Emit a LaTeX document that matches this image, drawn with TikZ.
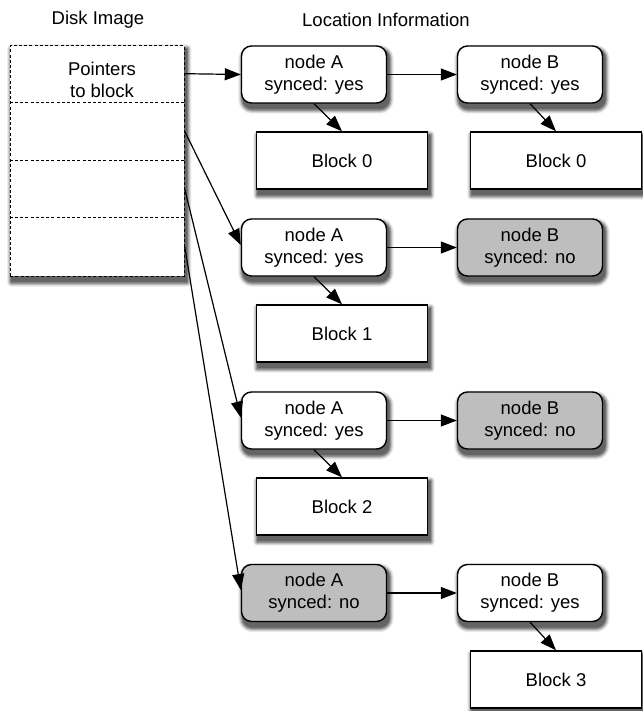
\documentclass[tikz,border=0pt]{standalone}
\usepackage{fontspec}
\setmainfont{Liberation Sans}
\usetikzlibrary{arrows.meta,backgrounds,calc}
\definecolor{boxgray}{RGB}{190,190,190}
\definecolor{shA}{RGB}{235,235,235}
\definecolor{shB}{RGB}{210,210,210}
\definecolor{shC}{RGB}{175,175,175}
\definecolor{shD}{RGB}{135,135,135}
\definecolor{shE}{RGB}{100,100,100}
\newcommand\shadowlayers[6]{% name, r1..r5
  \fill[shA,rounded corners=#2] ($(#1.north west)+(-2.5,-0.5)$) rectangle ($(#1.south east)+(6.5,10)$);
  \fill[shB,rounded corners=#3] ($(#1.north west)+(-1.5,0.5)$) rectangle ($(#1.south east)+(5.5,9)$);
  \fill[shC,rounded corners=#4] ($(#1.north west)+(-0.5,1.5)$) rectangle ($(#1.south east)+(4.5,8)$);
  \fill[shD,rounded corners=#5] ($(#1.north west)+(0.5,2.5)$) rectangle ($(#1.south east)+(3.5,7)$);
  \fill[shE,rounded corners=#6] ($(#1.north west)+(1.5,3.5)$) rectangle ($(#1.south east)+(2.5,5.5)$);
}
\newcommand\roundshadow[1]{\shadowlayers{#1}{14pt}{13pt}{12pt}{11pt}{10pt}}
\newcommand\squareshadow[1]{\shadowlayers{#1}{4pt}{3pt}{2pt}{1pt}{0.1pt}}
\begin{document}
\begin{tikzpicture}[x=1pt,y=-1pt,
  font=\fontsize{18.5}{22}\selectfont,
  infobox/.style={draw,line width=1.4pt,rounded corners=10pt,minimum width=145pt,minimum height=57pt,inner sep=0pt,align=center,fill=white},
  graybox/.style={infobox,fill=boxgray},
  blockbox/.style={draw,line width=1.4pt,minimum width=171pt,minimum height=57pt,inner sep=0pt,fill=white},
  dashline/.style={line width=1.1pt,dash pattern=on 3pt off 2.2pt},
  conn/.style={line width=1.2pt,-{Triangle[length=16pt,width=12pt]}},
  title/.style={inner sep=0pt}
]
\useasboundingbox (0,0) rectangle (642,711);
% disk image
\node[draw,dashline,minimum width=174pt,minimum height=230.5pt,inner sep=0pt,fill=white] (disk) at (97.25,160.8) {};
\coordinate (d1l) at ($(disk.north west)+(0,57.4)$);
\coordinate (d1r) at ($(disk.north east)+(0,57.4)$);
\coordinate (d2l) at ($(disk.north west)+(0,115.2)$);
\coordinate (d2r) at ($(disk.north east)+(0,115.2)$);
\coordinate (d3l) at ($(disk.north west)+(0,172.8)$);
\coordinate (d3r) at ($(disk.north east)+(0,172.8)$);
\draw[dashline] (d1l) -- (d1r);
\draw[dashline] (d2l) -- (d2r);
\draw[dashline] (d3l) -- (d3r);
\coordinate (p0) at ($(disk.north east)+(0,28.7)$);
\coordinate (p1) at ($(disk.north east)+(0,86.5)$);
\coordinate (p2) at ($(disk.north east)+(0,144.3)$);
\coordinate (p3) at ($(disk.north east)+(0,202)$);
\node[align=center,inner sep=0pt] (ptxt) at (102,80) {Pointers\\to block};
\node[title] (t1) at (98,20) {Disk Image};
\node[title] (t2) at (386,20) {Location Information};
% row 0
\node[infobox] (a0) at (314,74.5) {node A\\synced: yes};
\node[infobox] (b0) at (530,74.5) {node B\\synced: yes};
\node[blockbox] (k0) at (342,160.5) {Block 0};
\node[blockbox] (k0b) at (556,160.5) {Block 0};
% row 1
\node[infobox] (a1) at (314,247.5) {node A\\synced: yes};
\node[graybox] (b1) at (530,247.5) {node B\\synced: no};
\node[blockbox] (k1) at (342,333.5) {Block 1};
% row 2
\node[infobox] (a2) at (314,420.5) {node A\\synced: yes};
\node[graybox] (b2) at (530,420.5) {node B\\synced: no};
\node[blockbox] (k2) at (342,506.5) {Block 2};
% row 3
\node[graybox] (a3) at (314,593) {node A\\synced: no};
\node[infobox] (b3) at (530,593) {node B\\synced: yes};
\node[blockbox] (k3) at (556,679.5) {Block 3};
% shadows
\begin{scope}[on background layer]
  \squareshadow{disk}
  \roundshadow{a0}\roundshadow{b0}
  \roundshadow{a1}\roundshadow{b1}
  \roundshadow{a2}\roundshadow{b2}
  \roundshadow{a3}\roundshadow{b3}
  \squareshadow{k0}\squareshadow{k0b}\squareshadow{k1}\squareshadow{k2}\squareshadow{k3}
\end{scope}
% connectors
\draw[conn] (p0) -- (a0.west);
\draw[conn] (p1) -- ($(a1.west)+(0,-2.5)$);
\draw[conn] (p2) -- ($(a2.west)+(0,-3)$);
\draw[conn] (p3) -- ($(a3.west)+(0,-3)$);
\draw[conn] (a0) -- (b0);
\draw[conn] (a1) -- (b1);
\draw[conn] (a2) -- (b2);
\draw[conn] (a3) -- (b3);
\draw[conn] (a0.south) -- (k0.north);
\draw[conn] (b0.south) -- (k0b.north);
\draw[conn] (a1.south) -- (k1.north);
\draw[conn] (a2.south) -- (k2.north);
\draw[conn] (b3.south) -- (k3.north);
\end{tikzpicture}
\end{document}
